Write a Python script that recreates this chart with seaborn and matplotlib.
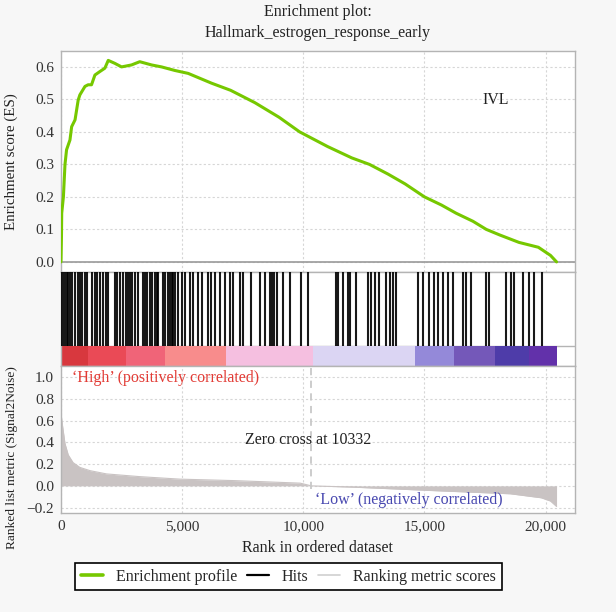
import numpy as np
import pandas as pd
import seaborn as sns
import matplotlib.pyplot as plt
from matplotlib.lines import Line2D

# running enrichment score
es_rank = [0, 20, 30, 100, 165, 230, 370, 440, 580, 710, 780, 990, 1120, 1260,
           1400, 1610, 1810, 1950, 2220, 2500, 2910, 3250, 3740, 4150, 4700,
           5250, 6210, 7000, 8000, 9000, 9850, 11000, 12000, 12730, 13500,
           14200, 15000, 15700, 16300, 17000, 17550, 18100, 18900, 19700,
           20200, 20450]
es_value = [0.0, 0.078, 0.15, 0.20, 0.30, 0.345, 0.375, 0.416, 0.437, 0.498,
            0.514, 0.54, 0.545, 0.545, 0.575, 0.586, 0.596, 0.62, 0.611, 0.60,
            0.606, 0.616, 0.606, 0.60, 0.589, 0.58, 0.55, 0.528, 0.49, 0.445,
            0.40, 0.355, 0.32, 0.30, 0.27, 0.24, 0.20, 0.175, 0.15, 0.125,
            0.10, 0.083, 0.06, 0.045, 0.02, 0.0]

# positions of the gene set members in the ranked list
hit_rank = [20, 80, 150, 230, 290, 370, 450, 580, 700, 780, 870, 990, 1080,
            1280, 1400, 1480, 1600, 1720, 1850, 1940, 2230, 2300, 2430, 2560,
            2700, 2760, 2840, 2930, 3050, 3170, 3380, 3460, 3540, 3670, 3750,
            3880, 3960, 4000, 4200, 4290, 4410, 4490, 4570, 4620, 4700, 4820,
            4990, 5110, 5310, 5450, 5660, 5800, 6070, 6210, 6340, 6550, 6760,
            6960, 7100, 7370, 7510, 7860, 8200, 8410, 8610, 8700, 8800, 8900,
            9150, 9440, 9910, 10180, 11360, 11420, 11630, 11840, 11910, 12180,
            12660, 12800, 12940, 13140, 13420, 13560, 13690, 13830, 14720,
            14930, 15200, 15410, 15550, 15750, 15960, 16160, 16580, 16710,
            16920, 17540, 17670, 18360, 18570, 18700, 19050, 19320, 19530,
            19870]

# ranked list metric (Signal2Noise)
metric_rank = [0, 70, 165, 300, 500, 780, 1200, 1880, 3250, 4900, 7200, 9870,
               10332, 12070, 15290, 18540, 19820, 20200, 20450]
metric_value = [0.67, 0.545, 0.39, 0.285, 0.214, 0.17, 0.14, 0.11, 0.085,
                0.062, 0.048, 0.025, 0.0, -0.012, -0.043, -0.073, -0.11,
                -0.14, -0.19]

# colour band under the hits
band_edges = [0, 1100, 2700, 4300, 6800, 10400, 14600, 16200, 17900, 19300, 20450]
band_colors = ["#d8383e", "#ea4a56", "#f06478", "#f88c8c", "#f5bfe0",
               "#dbd5f3", "#9489d9", "#7458b9", "#4e3ca9", "#6231aa"]

zero_cross = 10332
x_ticks = [0, 5000, 10000, 15000, 20000]

sns.set_theme(style="whitegrid")
plt.rcParams["font.family"] = ["Liberation Serif", "DejaVu Serif"]
plt.rcParams["font.size"] = 11
grid_kw = dict(color="#d6d6d6", linestyle=(0, (2, 2)), linewidth=0.8)

fig = plt.figure(figsize=(6.16, 6.12), dpi=100)
fig.patch.set_facecolor("#f7f7f7")
ax1 = fig.add_axes([0.099, 0.5556, 0.834, 0.3611])
ax2 = fig.add_axes([0.099, 0.402, 0.834, 0.1536])
ax3 = fig.add_axes([0.099, 0.1618, 0.834, 0.2402])

for ax in (ax1, ax2, ax3):
    ax.set_facecolor("white")
    ax.set_xlim(0, 21200)
    for s in ax.spines.values():
        s.set_color("#b4b4b4")
        s.set_linewidth(1)
    ax.tick_params(labelsize=11, colors="#333333", length=3, pad=2)

# top: enrichment profile
es = pd.DataFrame({"rank": es_rank, "es": es_value})
ax1.axhline(0, color="#9a9a9a", lw=1.2, zorder=1)
sns.lineplot(data=es, x="rank", y="es", ax=ax1, color="#76c800", lw=2.2, zorder=3)
ax1.set_ylim(-0.031, 0.649)
ax1.set_yticks([0.0, 0.1, 0.2, 0.3, 0.4, 0.5, 0.6])
ax1.set_yticklabels([f"{v:.1f}" for v in ax1.get_yticks()])
ax1.set_xticks(x_ticks)
ax1.set_xticklabels([])
ax1.tick_params(axis="x", length=0)
ax1.grid(True, **grid_kw)
ax1.set_xlabel("")
ax1.set_ylabel("Enrichment score (ES)", fontsize=10.8, color="#222222")
ax1.yaxis.set_label_coords(-0.084, 0.5)
ax1.set_title("Enrichment plot:\nHallmark_estrogen_response_early",
              fontsize=11.5, color="#222222", pad=10, linespacing=1.45)
ax1.text(17960, 0.498, "IVL", fontsize=11.5, ha="center", va="center", color="#222222")

# middle: hits and colour band
band_h = 0.213
ax2.bar(band_edges[:-1], band_h, width=np.diff(band_edges), align="edge",
        color=band_colors, linewidth=0, zorder=2)
ax2.axhline(band_h, color="#b4b4b4", lw=1, zorder=1)
ax2.vlines(hit_rank, band_h, 1, color="black", lw=1.5, alpha=0.9, zorder=3)
ax2.set_ylim(0, 1)
ax2.set_xticks([])
ax2.set_yticks([])
ax2.grid(False)

# bottom: ranked list metric
metric = pd.DataFrame({"rank": metric_rank, "metric": metric_value})
ax3.fill_between(metric["rank"], 0, metric["metric"], color="#c9c3c3", lw=0, zorder=2)
sns.lineplot(data=metric, x="rank", y="metric", ax=ax3, color="#c9c3c3", lw=0.8, zorder=2)
ax3.plot([zero_cross, zero_cross], [-0.03, 1.105], color="#c8c8c8",
         lw=1.3, linestyle=(0, (4, 3)), zorder=3)
ax3.set_ylim(-0.25, 1.105)
ax3.set_yticks([-0.2, 0.0, 0.2, 0.4, 0.6, 0.8, 1.0])
ax3.set_yticklabels([f"{v:.1f}".replace("-", "\u2212") for v in ax3.get_yticks()])
ax3.set_xticks(x_ticks)
ax3.set_xticklabels([f"{v:,}" for v in x_ticks])
ax3.grid(True, **grid_kw)
ax3.set_xlabel("Rank in ordered dataset", fontsize=11.5, color="#222222", labelpad=5)
ax3.set_ylabel("Ranked list metric (Signal2Noise)", fontsize=9.6, color="#222222")
ax3.yaxis.set_label_coords(-0.084, 0.374)
ax3.text(450, 0.99, "\u2018High\u2019 (positively correlated)", color="#e23b35",
         fontsize=11.5, ha="left", va="center")
ax3.text(10180, 0.42, "Zero cross at 10332", color="#222222",
         fontsize=11.5, ha="center", va="center")
ax3.text(10500, -0.128, "\u2018Low\u2019 (negatively correlated)", color="#4848b0",
         fontsize=11.5, ha="left", va="center")

handles = [Line2D([], [], color="#76c800", lw=2.6),
           Line2D([], [], color="black", lw=1.6),
           Line2D([], [], color="#d0d0d0", lw=1.2)]
labels = ["Enrichment profile", "Hits", "Ranking metric scores"]
leg = fig.legend(handles, labels, loc="center", bbox_to_anchor=(0.468, 0.058),
                 ncol=3, frameon=True, fancybox=False, framealpha=1,
                 fontsize=11.5, handlelength=1.4, handletextpad=0.8,
                 columnspacing=0.6, borderpad=0.35)
leg.get_frame().set_edgecolor("black")
leg.get_frame().set_linewidth(1.2)

fig.savefig("out.png", dpi=100, facecolor=fig.get_facecolor())
